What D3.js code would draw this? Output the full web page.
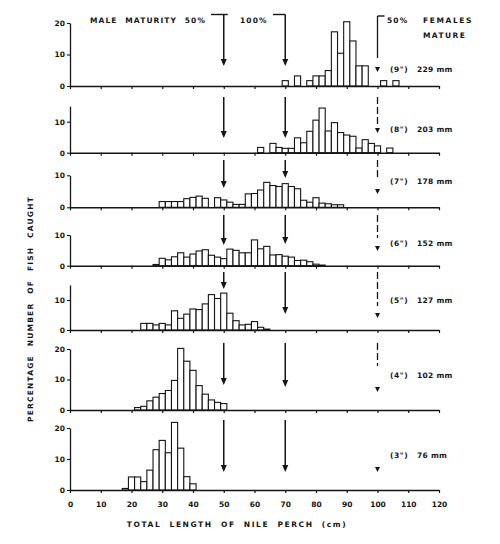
<!DOCTYPE html>
<html><head><meta charset="utf-8">
<script src="https://cdn.jsdelivr.net/npm/d3@7"></script>
<style>
body{margin:0;background:#fff}
text{font-family:"DejaVu Sans",sans-serif;font-weight:bold;fill:#151515}
</style>
</head><body><svg id="c" width="500" height="544"></svg>
<script>
// ---- data ----
const xTicks = [0,10,20,30,40,50,60,70,80,90,100,110,120];
const xTickLabels = ["0","10","20","30","40","50","60","70","80","90","100","110","120"];
const panelSizes = ['(9")','(8")','(7")','(6")','(5")','(4")','(3")'];
const panelMM = ["229 mm","203 mm","178 mm","152 mm","127 mm","102 mm","76 mm"];
const yMax = [20,15,10,10,15,20,20];
const yTicks = [[0,10,20],[0,10],[0,10],[0,10],[0,10],[0,10,20],[0,10,20]];
const maleMaturity = [50,70];
const femaleMaturity = 100;

const bins9 = [70,74,78,80,82,84,86,88,90,92,94,96,102,106];
const pct9  = [1.7,3.2,1.7,3.2,3.2,4.9,17.2,10.4,20.4,14.3,6.4,6.4,1.7,1.7];
const bins8 = [62,66,68,70,72,74,76,78,80,82,84,86,88,90,92,94,96,98,100,104];
const pct8  = [1.7,3,1.7,1.4,1.4,4.8,3.2,6.9,10.5,14.4,7,9.7,6.5,5.7,5.3,1.5,4.2,3,2.2,1.5];
const bins7 = [30,32,34,36,38,40,42,44,48,50,52,54,56,58,60,62,64,66,68,70,72,74,76,78,80,82,84,86,88];
const pct7  = [1.8,1.8,1.8,1.8,2.7,3.1,3.5,2.8,3,2.3,1.6,0.9,0.9,4.2,4.3,5.4,7.8,6.8,6.5,7.4,6.5,5.8,2.2,1.6,3,1.3,1.1,0.8,0.8];
const bins6 = [28,30,32,34,36,38,40,42,44,46,48,50,52,54,56,58,60,62,64,66,68,70,72,74,76,78,80,82];
const pct6  = [0.4,2.4,1.9,2.9,4.2,2.8,3.8,4.8,5.2,3.4,2.8,2.3,5.4,5,4.2,4.2,8.4,5.5,6.3,3.5,3.6,3.1,2.8,1.7,1.8,1.3,0.5,0.2];
const bins5 = [24,26,28,30,32,34,36,38,40,42,44,46,48,50,52,54,56,58,60,62,64];
const pct5  = [2.2,2.2,1.7,2.2,1.7,6.4,3.9,5.3,7,6.8,8.7,11.8,10.5,12.3,5.6,3.1,1.7,1.9,2.8,0.9,0.3];
const bins4 = [22,24,26,28,30,32,34,36,38,40,42,44,46,48,50];
const pct4  = [0.8,1.2,3,4.2,5.4,6.4,9.7,20.2,16,13,8,5.2,3.3,2.5,2.1];
const bins3 = [18,20,22,24,26,28,30,32,34,36,38,40];
const pct3  = [0.5,4.2,4.2,2.7,6.4,13,16,12,21.8,13.5,4.3,2];

const allBins = [bins9,bins8,bins7,bins6,bins5,bins4,bins3];
const allPct  = [pct9,pct8,pct7,pct6,pct5,pct4,pct3];

// ---- layout ----
const baseY   = [86,152.7,207.3,265.7,330,410,490];
const px10    = [31.5,31,32,30.7,30,30.5,31];
const labelDy = [-14,-21,-23,-20,-27,-32,-32];
const arrTop  = [14.5,97,160,215,272,343,420];
const tip50   = [66,138,188,245,289,385,472];
const tip70   = [66,138,178,244,314,387,472];
const femTop  = [16,97,160,215,272,343,null];
const femEnd  = [58,124,180,238,306,366,null];
const femTip  = [72,133,194,251,318,392,472];

const ink = "#151515";
const svg = d3.select("#c");
const x = d3.scaleLinear().domain([0,120]).range([70,439]);

allBins.forEach((bins,i)=>{
  const b = baseY[i];
  const y = d3.scaleLinear().domain([0,yMax[i]]).range([b, b - yMax[i]*px10[i]/10]);
  const g = svg.append("g");
  // bars
  g.selectAll("rect").data(bins.map((c,j)=>({c, v: allPct[i][j]}))).join("rect")
    .attr("x", d=>x(d.c-1)).attr("width", d=>x(d.c+1)-x(d.c-1))
    .attr("y", d=>y(d.v)).attr("height", d=>b-y(d.v))
    .attr("fill","#fff").attr("stroke",ink).attr("stroke-width",1.1);
  // x axis
  const xa = d3.axisBottom(x).tickValues(xTicks).tickSize(3).tickSizeOuter(0)
    .tickFormat((d,k)=> i===6 ? xTickLabels[k] : "");
  const gx = g.append("g").attr("transform",`translate(0,${b})`).call(xa);
  gx.select(".domain").attr("stroke",ink).attr("stroke-width",1.6);
  gx.selectAll(".tick line").attr("stroke",ink).attr("stroke-width",1.2);
  gx.selectAll(".tick text").attr("font-size",7.5).attr("dy","1.5em").attr("font-family","DejaVu Sans").attr("font-weight","bold").attr("fill",ink);
  // y axis
  const ya = d3.axisLeft(y).tickValues(yTicks[i]).tickSize(3).tickSizeOuter(0).tickFormat(d3.format("d"));
  const gy = g.append("g").attr("transform",`translate(${x(0)},0)`).call(ya);
  gy.select(".domain").attr("stroke",ink).attr("stroke-width",1.3);
  gy.selectAll(".tick line").attr("stroke",ink).attr("stroke-width",1.1);
  gy.selectAll(".tick text").attr("font-size",7.5).attr("x",-5).attr("font-family","DejaVu Sans").attr("font-weight","bold").attr("fill",ink);
  // size label
  g.append("text").attr("x",390).attr("y",b+labelDy[i]).attr("font-size",7.5).attr("letter-spacing",0.6).text(panelSizes[i]);
  g.append("text").attr("x",417).attr("y",b+labelDy[i]).attr("font-size",7.5).attr("letter-spacing",0.3).text(panelMM[i]);
  // male arrows
  const tips = [tip50[i], tip70[i]];
  maleMaturity.forEach((m,k)=>{
    const ax = x(m);
    g.append("line").attr("x1",ax).attr("x2",ax).attr("y1",arrTop[i]).attr("y2",tips[k]-6)
      .attr("stroke",ink).attr("stroke-width",1.5);
    g.append("path").attr("d",`M${ax-3},${tips[k]-7}L${ax+3},${tips[k]-7}L${ax},${tips[k]}Z`).attr("fill",ink);
  });
  // female arrow
  const fx = x(femaleMaturity);
  if (femTop[i] !== null) {
    g.append("line").attr("x1",fx).attr("x2",fx).attr("y1",femTop[i]).attr("y2",femEnd[i])
      .attr("stroke",ink).attr("stroke-width",1.3).attr("stroke-dasharray", i===0 ? null : "7,3");
  }
  g.append("path").attr("d",`M${fx-2.5},${femTip[i]-5}L${fx+2.5},${femTip[i]-5}L${fx},${femTip[i]}Z`).attr("fill",ink);
});

// top annotations
const topFont = 7.5;
svg.append("text").attr("x",90).attr("y",23).attr("font-size",topFont).attr("letter-spacing",1.1).attr("word-spacing",4).text("MALE MATURITY 50%");
svg.append("line").attr("x1",211).attr("x2",x(50)+4).attr("y1",arrTop[0]).attr("y2",arrTop[0]).attr("stroke",ink).attr("stroke-width",1.4);
svg.append("text").attr("x",240).attr("y",23).attr("font-size",topFont).attr("letter-spacing",1.1).text("100%");
svg.append("line").attr("x1",273).attr("x2",x(70)).attr("y1",arrTop[0]).attr("y2",arrTop[0]).attr("stroke",ink).attr("stroke-width",1.4);
svg.append("line").attr("x1",x(100)).attr("x2",x(100)+7).attr("y1",femTop[0]).attr("y2",femTop[0]).attr("stroke",ink).attr("stroke-width",1.4);
svg.append("text").attr("x",387).attr("y",23).attr("font-size",topFont).attr("letter-spacing",1.1).text("50%");
svg.append("text").attr("x",423).attr("y",23).attr("font-size",topFont).attr("letter-spacing",1.6).text("FEMALES");
svg.append("text").attr("x",423).attr("y",38).attr("font-size",topFont).attr("letter-spacing",1.4).text("MATURE");

// axis titles
svg.append("text").attr("x",237).attr("y",527).attr("text-anchor","middle").attr("font-size",7.5)
  .attr("letter-spacing",1.6).attr("word-spacing",4).text("TOTAL LENGTH OF NILE PERCH (cm)");
svg.append("text").attr("transform","translate(33,309) rotate(-90)").attr("text-anchor","middle").attr("font-size",7.5)
  .attr("letter-spacing",1.2).attr("word-spacing",5).text("PERCENTAGE NUMBER OF FISH CAUGHT");
</script></body></html>
